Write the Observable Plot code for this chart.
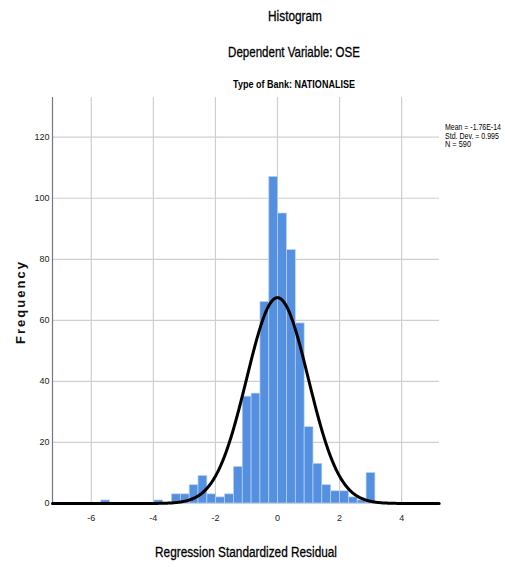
<!DOCTYPE html>
<html>
<head>
<meta charset="utf-8">
<script src="https://cdn.jsdelivr.net/npm/d3@7"></script>
<script src="https://cdn.jsdelivr.net/npm/@observablehq/plot@0.6"></script>
<style>
  html, body { margin: 0; padding: 0; background: #fff; }
  svg { display: block; }
</style>
</head>
<body>
<div id="chart"></div>
<script>
// ---- data ----
const binEdges = [-5.68, -5.395, -5.11, -4.825, -4.54, -4.255, -3.97, -3.685, -3.4, -3.115,
  -2.83, -2.545, -2.26, -1.975, -1.69, -1.405, -1.12, -0.835, -0.55, -0.265,
  0.02, 0.305, 0.59, 0.875, 1.16, 1.445, 1.73, 2.015, 2.3, 2.585, 2.87, 3.155];
const counts = [1, 0, 0, 0, 0, 0, 1, 0, 3, 3,
  6, 9, 3, 2, 3, 12, 35, 36, 66, 107,
  95, 83, 59, 25, 13, 6, 4, 4, 2, 1, 10];
const xTicks = [-6, -4, -2, 0, 2, 4];
const yTicks = [0, 20, 40, 60, 80, 100, 120];
const meanVal = -1.76e-14;
const sdVal = 0.995;
const nVal = 590;
const titles = ["Histogram", "Dependent Variable: OSE", "Type of Bank: NATIONALISE"];
const legendLines = ["Mean = -1.76E-14", "Std. Dev. = 0.995", "N = 590"];
const xLabel = "Regression Standardized Residual";
const yLabel = "Frequency";

const bins = counts.map((c, i) => ({x1: binEdges[i], x2: binEdges[i + 1], count: c}));
const binW = binEdges[1] - binEdges[0];
const xDomain = [-7.25, 5.22];
const curve = d3.range(xDomain[0], xDomain[1] + 0.001, 0.02).map(x => ({
  x,
  y: nVal * binW * Math.exp(-0.5 * ((x - meanVal) / sdVal) ** 2) / (sdVal * Math.sqrt(2 * Math.PI))
}));

const FONT = '"Liberation Sans", Arial, sans-serif';

const chart = Plot.plot({
  width: 505,
  height: 567,
  marginLeft: 52,
  marginRight: 66,
  marginTop: 97,
  marginBottom: 64,
  style: {fontFamily: FONT, background: "#fff", color: "#222"},
  x: {domain: xDomain, ticks: xTicks},
  y: {domain: [0, 133], ticks: yTicks},
  marks: [
    Plot.gridX(xTicks, {stroke: "#cfcfcf", strokeOpacity: 1, strokeWidth: 1.2}),
    Plot.gridY(yTicks, {stroke: "#cfcfcf", strokeOpacity: 1, strokeWidth: 1.2}),
    Plot.rectY(bins, {x1: "x1", x2: "x2", y: "count", fill: "#5590e0", stroke: "#b9d3f3", strokeWidth: 0.7}),
    Plot.frame({anchor: "left", stroke: "#777", strokeWidth: 1.2}),
    Plot.line(curve, {x: "x", y: "y", stroke: "#000", strokeWidth: 3}),
    Plot.axisX(xTicks, {tickSize: 0, tickPadding: 11, fontSize: 9, label: null, tickFormat: d => String(d)}),
    Plot.axisY(yTicks, {tickSize: 0, tickPadding: 3, fontSize: 9, label: null})
  ]
});
document.getElementById("chart").appendChild(chart);

const svg = d3.select(chart);
// text squeezed horizontally (narrow face look) with a transform, so its box stays true
const add = (txt, x, y, size, weight, anchor, len) => {
  const g = svg.append("g");
  const t = g.append("text").attr("x", 0).attr("y", 0)
    .attr("font-family", FONT).attr("font-size", size).attr("font-weight", weight)
    .attr("text-anchor", anchor).attr("fill", "#000").text(txt);
  const natural = t.node().getComputedTextLength() || len;
  const sx = len ? len / natural : 1;
  g.attr("transform", `translate(${x},${y}) scale(${sx},1)`);
  return t;
};
add(titles[0], 295, 21, 15, "normal", "middle", 54).attr("stroke", "#000").attr("stroke-width", 0.3);
add(titles[1], 294, 57, 15, "normal", "middle", 132).attr("stroke", "#000").attr("stroke-width", 0.3);
add(titles[2], 294, 88, 11.5, "bold", "middle", 122);
add(xLabel, 246, 557, 15, "normal", "middle", 182).attr("stroke", "#000").attr("stroke-width", 0.3);
svg.append("text").attr("transform", "translate(25,302) rotate(-90)")
  .attr("font-family", FONT).attr("font-size", 13).attr("font-weight", "bold")
  .attr("letter-spacing", 2).attr("text-anchor", "middle").attr("fill", "#111").text(yLabel);
const legendLens = [56, 54, 26];
legendLines.forEach((s, i) => add(s, 445, 130 + i * 8.5, 9, "normal", "start", legendLens[i]));
</script>
</body>
</html>
